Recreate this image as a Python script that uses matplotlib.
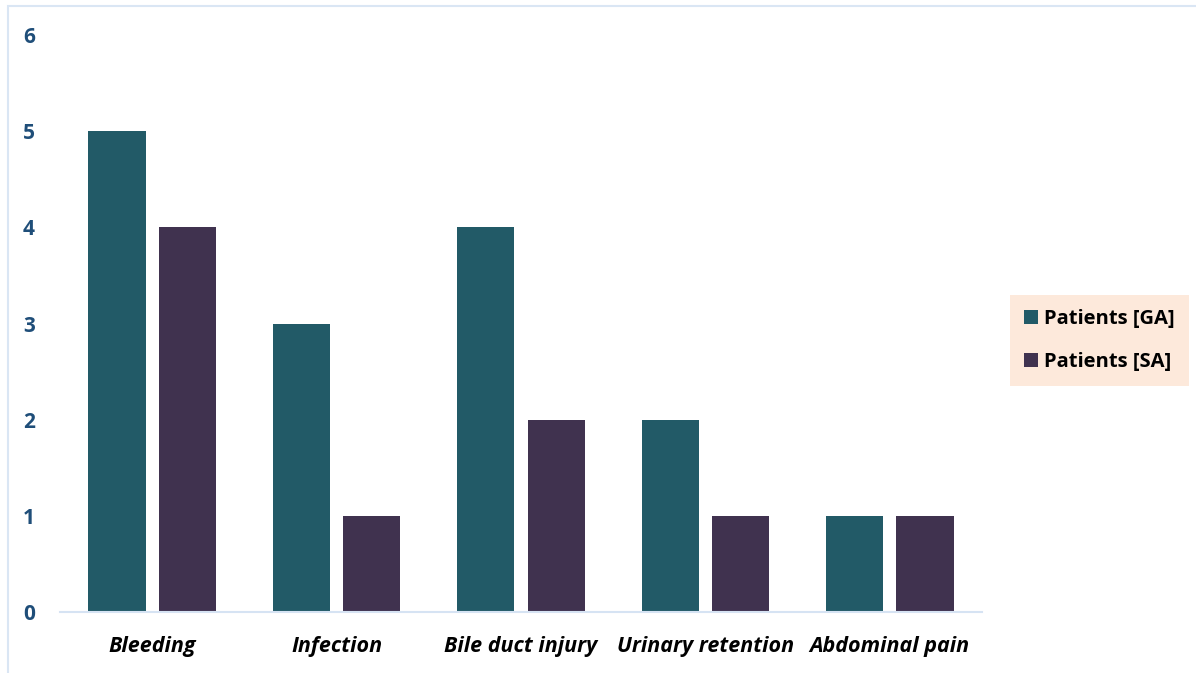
import matplotlib
matplotlib.use("Agg")
import matplotlib.pyplot as plt
import numpy as np
from matplotlib.patches import Rectangle

categories = ["Bleeding", "Infection", "Bile duct injury", "Urinary retention", "Abdominal pain"]
patients_ga = [5, 3, 4, 2, 1]
patients_sa = [4, 1, 2, 1, 1]
y_ticks = [0, 1, 2, 3, 4, 5, 6]

GA_COLOUR = "#225A67"
SA_COLOUR = "#40324F"
TICK_COLOUR = "#1F4E79"
LINE_COLOUR = "#D6E3F3"

plt.rcParams["font.family"] = ["Open Sans", "DejaVu Sans"]

W, H = 1196, 673
fig = plt.figure(figsize=(W / 100, H / 100), dpi=100)
ax = fig.add_axes([60 / W, (H - 612) / H, (982 - 60) / W, (612 - 35) / H])

x = np.arange(len(categories))
width = 0.31
off = 0.191
ax.bar(x - off, patients_ga, width, color=GA_COLOUR, label="Patients [GA]")
ax.bar(x + off, patients_sa, width, color=SA_COLOUR, label="Patients [SA]")

ax.set_xlim(-0.5, len(categories) - 0.5)
ax.set_ylim(0, 6)
ax.set_yticks(y_ticks)
ax.set_yticklabels([str(v) for v in y_ticks], fontsize=15, fontweight="bold",
                   color=TICK_COLOUR)
ax.set_xticks(x)
ax.set_xticklabels(categories, fontsize=15.5, fontweight="bold", style="italic",
                   color="black")
ax.tick_params(axis="y", length=0, pad=18)
ax.tick_params(axis="x", length=0, pad=17)
for s in ["top", "right", "left"]:
    ax.spines[s].set_visible(False)
ax.spines["bottom"].set_color(LINE_COLOUR)
ax.spines["bottom"].set_linewidth(1.5)

# outer chart frame
fig.add_artist(Rectangle((8 / W, -0.1), 1.2, (H - 6) / H + 0.1,
                         transform=fig.transFigure, fill=False,
                         edgecolor="#DAE6F4", linewidth=1.5))

leg = fig.legend(loc="upper left", bbox_to_anchor=(1010 / W, 1 - 295 / H),
                 frameon=True, fancybox=False,
                 prop={"weight": "bold", "size": 14.5},
                 handlelength=0.7, handleheight=0.7, handletextpad=0.3,
                 labelspacing=1.15, borderpad=0.7, borderaxespad=0)
leg.get_frame().set_facecolor("#FDE9DB")
leg.get_frame().set_edgecolor("none")
leg.get_frame().set_alpha(1)

fig.savefig("out.png", dpi=100)
